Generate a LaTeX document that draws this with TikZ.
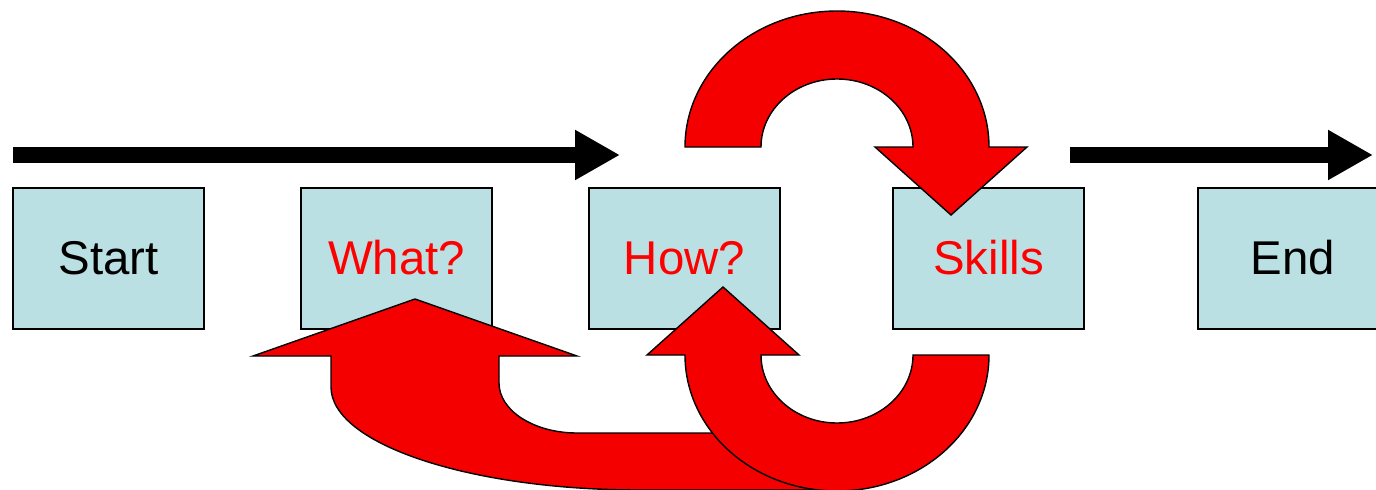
\documentclass[tikz,border=0pt]{standalone}
\usepackage{fontspec}
\setmainfont{Liberation Sans}
\usetikzlibrary{arrows.meta}
\definecolor{boxblue}{RGB}{186,224,227}
\definecolor{arrowred}{RGB}{245,0,0}
\tikzset{
  stage/.style={draw=black, line width=1pt, fill=boxblue, minimum width=95.5pt,
    minimum height=70.5pt, inner sep=0pt, font=\fontsize{23.7}{28}\selectfont},
  bigarrow/.style={fill=arrowred, draw=black, line width=0.7pt, line join=miter},
  timeline/.style={line width=8pt, -{Triangle[length=22.5pt,width=23.5pt]}}
}
\begin{document}
\begin{tikzpicture}[x=0.5pt, y=0.5pt]
\useasboundingbox (0,0) rectangle (1376,489);
\clip (0,0) rectangle (1376,489);

% Boxes
\node[stage] (start) at (108.5,231) {Start};
\node[stage, text=red] (what) at (396.5,231) {What?};
\node[stage, text=red] (how) at (684.5,231) {How?};
\node[stage, text=red] (skills) at (988.5,231) {Skills};
\node[stage] (end) at (1293,231) {End};

% Time line
\coordinate (t1) at (13,334);
\coordinate (t2) at (620,334);
\coordinate (t3) at (1070,334);
\coordinate (t4) at (1373,334);
\draw[timeline] (t1) -- (t2);
\draw[timeline] (t3) -- (t4);

% Loop over to Skills
\filldraw[bigarrow] (685,342) arc[start angle=180, end angle=0, x radius=152, y radius=136]
  -- (1027,342) -- (951,274) -- (875,342) -- (913,342)
  arc[start angle=0, end angle=180, x radius=76, y radius=68] -- cycle;

% Back to What?
\filldraw[bigarrow] (415,190) -- (577,133) -- (499,133) -- (499,106)
  arc[start angle=180, end angle=270, x radius=78, y radius=50]
  -- (837,56) -- (837,-1) -- (640,-1)
  arc[start angle=270, end angle=180, x radius=309, y radius=103]
  -- (331,133) -- (253,133) -- cycle;

% Loop back to How?
\filldraw[bigarrow] (989,134) arc[start angle=0, end angle=-180, x radius=152, y radius=136]
  -- (647,134) -- (723,202) -- (799,134) -- (761,134)
  arc[start angle=180, end angle=360, x radius=76, y radius=68] -- cycle;
\end{tikzpicture}
\end{document}
